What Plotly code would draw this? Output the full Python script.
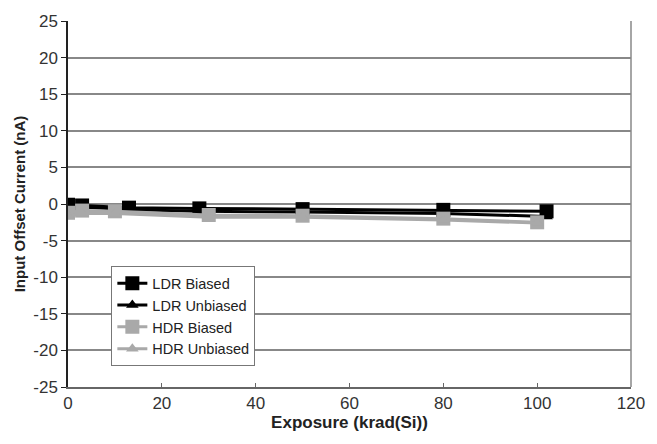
import plotly.graph_objects as go

# Data
ldr_x = [0, 3, 13, 28, 50, 80, 102]
ldr_biased = [-0.1, -0.2, -0.5, -0.6, -0.7, -0.8, -1.0]
ldr_unbiased = [-0.2, -0.4, -0.8, -1.0, -1.1, -1.3, -1.7]
hdr_x = [0, 3, 10, 30, 50, 80, 100]
hdr_biased = [-1.2, -0.9, -1.0, -1.5, -1.6, -2.0, -2.5]
hdr_unbiased = [-1.6, -1.3, -1.3, -1.8, -1.8, -2.2, -2.6]

x_ticks = [0, 20, 40, 60, 80, 100, 120]
y_ticks = [25, 20, 15, 10, 5, 0, -5, -10, -15, -20, -25]

BLACK = "#000000"
GRAY = "#a9a9a9"

fig = go.Figure()
series = [
    ("LDR Biased", ldr_x, ldr_biased, BLACK, "square"),
    ("LDR Unbiased", ldr_x, ldr_unbiased, BLACK, "triangle-up"),
    ("HDR Biased", hdr_x, hdr_biased, GRAY, "square"),
    ("HDR Unbiased", hdr_x, hdr_unbiased, GRAY, "triangle-up"),
]
for name, xs, ys, col, sym in series:
    fig.add_trace(go.Scatter(
        x=xs, y=ys, name=name, mode="lines+markers",
        line=dict(color=col, width=3),
        marker=dict(symbol=sym, size=14 if sym == "square" else 11, color=col),
    ))

fig.update_layout(
    width=657, height=444,
    margin=dict(l=68, r=17, t=17, b=57),
    paper_bgcolor="white", plot_bgcolor="white",
    font=dict(family="Liberation Sans, Arial, sans-serif", size=15, color="#333333"),
    showlegend=True,
    legend=dict(
        x=0.077, y=0.33, xanchor="left", yanchor="top",
        bgcolor="white", bordercolor="#777777", borderwidth=1,
        font=dict(size=14.5, color="#222222"),
        tracegroupgap=0, itemwidth=30,
    ),
)
fig.update_xaxes(
    range=[0, 120], tickvals=x_ticks, ticktext=[str(v) for v in x_ticks],
    tickfont=dict(size=17),
    showgrid=False, zeroline=False,
    showline=True, linecolor="#666666", linewidth=1.5, mirror=False,
    ticks="inside", ticklen=4, tickcolor="#666666",
    title=dict(text="<b>Exposure (krad(Si))</b>", font=dict(size=17, color="#222222"), standoff=4),
)
fig.update_yaxes(
    range=[-25, 25], tickvals=y_ticks, ticktext=[str(v) for v in y_ticks],
    tickfont=dict(size=17),
    showgrid=True, gridcolor="#888888", gridwidth=1.5, zeroline=False,
    showline=True, linecolor="#222222", linewidth=1.5,
    ticks="outside", ticklen=5, tickcolor="#222222",
    title=dict(text="<b>Input Offset Current (nA)</b>", font=dict(size=15, color="#222222"), standoff=4),
)
# right frame
fig.add_shape(type="line", xref="paper", yref="paper", x0=1, x1=1, y0=0, y1=1,
              line=dict(color="#888888", width=1.5))

fig.write_html("out.html")
